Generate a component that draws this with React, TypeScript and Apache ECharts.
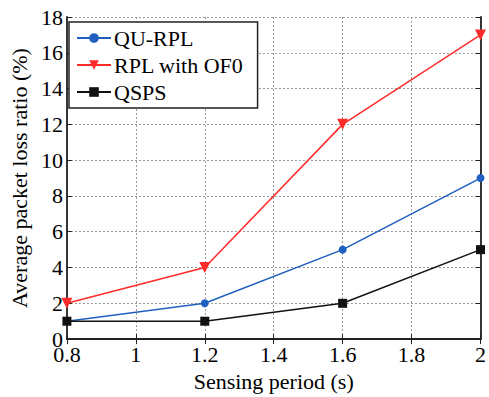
import React, { useEffect, useRef } from "react";
import * as echarts from "echarts";

const xValues = [0.8, 1.2, 1.6, 2.0];
const quRpl = [1, 2, 5, 9];
const rplOf0 = [2, 4, 12, 17];
const qsps = [1, 1, 2, 5];

const FONT = "'Liberation Serif', 'Times New Roman', 'DejaVu Serif', serif";

export default function App() {
  const ref = useRef<HTMLDivElement>(null);
  useEffect(() => {
    const chart = echarts.init(ref.current!, null, { renderer: "svg" });
    const pairs = (ys: number[]) => xValues.map((x, i) => [x, ys[i]]);
    const axisCommon = {
      axisLine: { show: true, lineStyle: { color: "#222", width: 1.8 } },
      axisTick: { show: true, inside: true, length: 5, lineStyle: { color: "#222", width: 1 } },
    };
    const grid = { show: true, lineStyle: { color: "#999", type: [2, 2], width: 1 } };
    chart.setOption({
      animation: false,
      textStyle: { fontFamily: FONT },
      grid: { left: 63, right: 5, top: 17, bottom: 53 },
      legend: {
        left: 69,
        top: 22,
        orient: "vertical",
        backgroundColor: "#fff",
        borderColor: "#222",
        borderWidth: 1.5,
        borderRadius: 0,
        padding: [5, 14, 5, 7],
        itemGap: 5,
        itemWidth: 34,
        itemHeight: 12,
        textStyle: { fontFamily: FONT, fontSize: 22, color: "#000", padding: [0, 0, 0, -2] },
        data: ["QU-RPL", "RPL with OF0", "QSPS"],
      },
      xAxis: [
        {
          type: "value",
          min: 0.8,
          max: 2,
          interval: 0.2,
          ...axisCommon,
          axisLabel: {
            fontFamily: FONT,
            fontSize: 22,
            color: "#000",
            margin: 4,
            formatter: (v: number) => String(parseFloat(v.toFixed(1))),
          },
          splitLine: grid,
          name: "Sensing period (s)",
          nameLocation: "middle",
          nameGap: 28,
          nameTextStyle: { fontFamily: FONT, fontSize: 22, color: "#000" },
        },
        {
          type: "value",
          position: "top",
          min: 0.8,
          max: 2,
          interval: 0.2,
          ...axisCommon,
          axisLabel: { show: false },
          splitLine: { show: false },
        },
      ],
      yAxis: [
        {
          type: "value",
          min: 0,
          max: 18,
          interval: 2,
          ...axisCommon,
          axisLabel: { fontFamily: FONT, fontSize: 22, color: "#000", margin: 4 },
          splitLine: grid,
          name: "Average packet loss ratio (%)",
          nameLocation: "middle",
          nameGap: 32,
          nameTextStyle: { fontFamily: FONT, fontSize: 22, color: "#000" },
        },
        {
          type: "value",
          position: "right",
          min: 0,
          max: 18,
          interval: 2,
          ...axisCommon,
          axisLabel: { show: false },
          splitLine: { show: false },
        },
      ],
      series: [
        {
          name: "QU-RPL",
          type: "line",
          data: pairs(quRpl),
          symbol: "circle",
          symbolSize: 8,
          lineStyle: { color: "#1f5fbf", width: 1.5 },
          itemStyle: { color: "#1f5fbf" },
        },
        {
          name: "RPL with OF0",
          type: "line",
          data: pairs(rplOf0),
          symbol: "triangle",
          symbolRotate: 180,
          symbolSize: 11,
          lineStyle: { color: "#ff2a2a", width: 1.5 },
          itemStyle: { color: "#ff2a2a" },
        },
        {
          name: "QSPS",
          type: "line",
          data: pairs(qsps),
          symbol: "rect",
          symbolSize: 9,
          lineStyle: { color: "#111", width: 1.5 },
          itemStyle: { color: "#111" },
        },
      ],
    });
    return () => chart.dispose();
  }, []);
  return <div ref={ref} style={{ width: 489, height: 397, position: "absolute", left: 0, top: 0 }} />;
}
